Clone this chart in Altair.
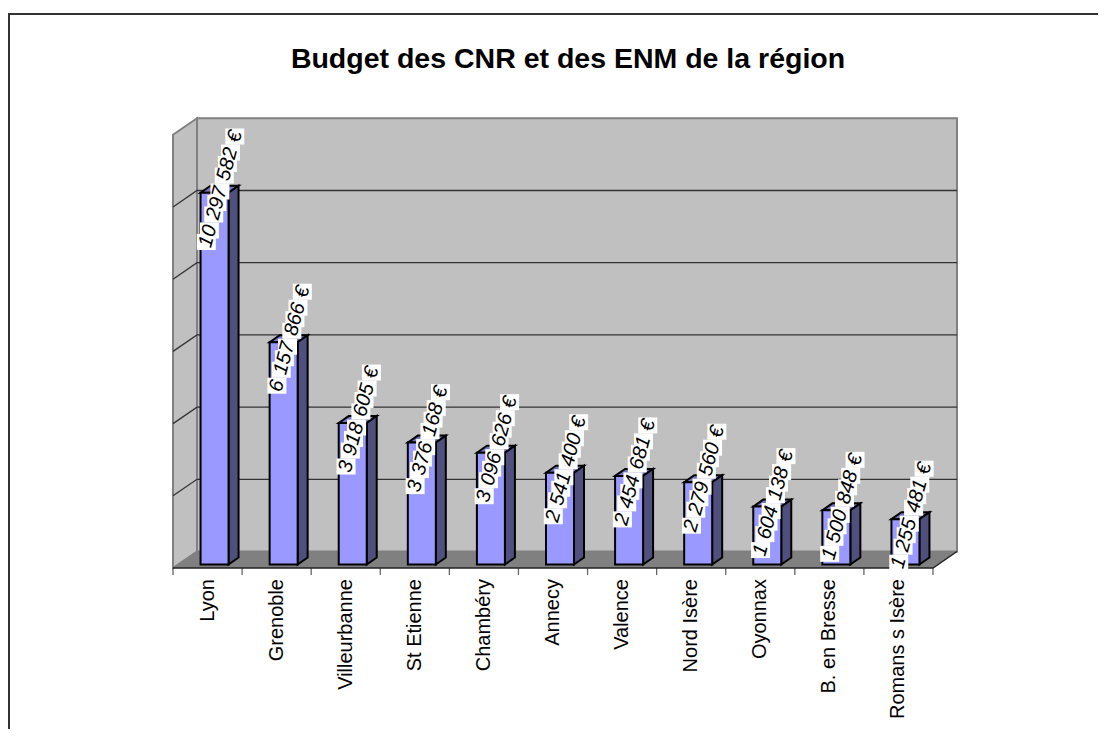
import altair as alt
import pandas as pd

TITLE = "Budget des CNR et des ENM de la région"
cities = ["Lyon", "Grenoble", "Villeurbanne", "St Etienne", "Chambéry", "Annecy",
          "Valence", "Nord Isère", "Oyonnax", "B. en Bresse", "Romans s Isère"]
budgets = [10297582, 6157866, 3918605, 3376168, 3096626, 2541400,
           2454681, 2279560, 1604138, 1500848, 1255481]
grid_values = [2, 4, 6, 8, 10, 12]

# layout of the pseudo-3D box, in pixels of the plot area
W, H = 1090, 721
CAT = 69.09          # px per category
PXM = 36.1           # px per million
X0, Y0 = 165.0, 560.0  # origin of the front axis
DX, DY = 24.0, 16.5    # depth of the box
BDX, BDY = 10.0, 7.0   # depth of a bar
BAR_W = 28.0
BAR_SHIFT, BAR_LIFT = 7.0, 3.5


def ux(px):
    return px / CAT


def uy(px):
    return px / PXM


xs = alt.Scale(domain=[-X0 / CAT, (W - X0) / CAT], range=[0, W], nice=False, zero=False)
ys = alt.Scale(domain=[-(H - Y0) / PXM, Y0 / PXM], range=[H, 0], nice=False, zero=False)
X = alt.X("x:Q", scale=xs, axis=None)
Y = alt.Y("y:Q", scale=ys, axis=None)
n = len(cities)
top = 12.0


def polys(rows):
    return pd.DataFrame(rows, columns=["id", "x", "y", "y2"])


def area(df, fill, stroke=None, sw=0):
    kw = {"fill": fill, "strokeWidth": sw}
    if stroke:
        kw["stroke"] = stroke
    return alt.Chart(df).mark_area(**kw).encode(x=X, y=Y, y2="y2:Q", detail="id:N")


def lines(df, color, sw):
    return alt.Chart(df).mark_line(color=color, strokeWidth=sw).encode(x=X, y=Y, detail="id:N", order="o:Q")


ddx, ddy = ux(DX), uy(DY)
back = pd.DataFrame([{"x": ddx, "x2": n + ddx, "y": ddy, "y2": ddy + top}])
back_layer = alt.Chart(back).mark_rect(fill="#C0C0C0", stroke="#808080", strokeWidth=2).encode(
    x=X, x2="x2:Q", y=Y, y2="y2:Q")
left_wall = area(polys([(0, 0, 0, top), (0, ddx, ddy, ddy + top)]), "#C0C0C0", "#808080", 2)
floor = area(polys([(0, 0, 0, 0), (0, ddx, ddy, 0), (0, n, ddy, 0), (0, n + ddx, ddy, ddy)]), "#808080")

grid_rows = []
for i, g in enumerate(grid_values[:-1]):
    grid_rows += [(i, 0, 0, g), (i, 1, ddx, g + ddy), (i, 2, n + ddx, g + ddy)]
grid = lines(pd.DataFrame(grid_rows, columns=["id", "o", "x", "y"]), "#333333", 1.3)

axis_df = pd.DataFrame([(0, 0, 0, 0), (0, 1, n, 0), (0, 2, n + ddx, ddy)], columns=["id", "o", "x", "y"])
axis_line = lines(axis_df, "#222222", 1.5)
tick_rows = []
for i in range(n + 1):
    tick_rows += [(i, 0, i, 0), (i, 1, i, -uy(7))]
ticks = lines(pd.DataFrame(tick_rows, columns=["id", "o", "x", "y"]), "#666666", 1.3)

frame = lines(pd.DataFrame([(0, 0, -X0 / CAT + ux(1), -(H - Y0) / PXM),
                            (0, 1, -X0 / CAT + ux(1), (Y0 - 6) / PXM),
                            (0, 2, (W - X0) / CAT, (Y0 - 6) / PXM)],
                           columns=["id", "o", "x", "y"]), "#333333", 2)

# bars
fronts, sides, tops = [], [], []
box_rows, text_rows = [], []
for i, (c, v) in enumerate(zip(cities, budgets)):
    m = v / 1e6
    xc = i + 0.5 + ux(BAR_SHIFT)
    l, r = xc - ux(BAR_W / 2), xc + ux(BAR_W / 2)
    b = uy(BAR_LIFT)
    t = b + m
    bx, by = ux(BDX), uy(BDY)
    fronts.append({"x": l, "x2": r, "y": b, "y2": t})
    sides += [(i, r, b, t), (i, r + bx, b + by, t + by)]
    tops += [(i, l, t, t), (i, l + bx, t + by, t), (i, r, t + by, t), (i, r + bx, t + by, t + by)]

    # label: groups of digits laid out along a slanted line centred on the bar's top face
    label = f"{v:,}".replace(",", " ") + " €"
    tokens = label.split(" ")
    STEP, GAP, SLOPE = 11.5, 16.0, 0.27
    pos = 0.0
    chars = []
    for ti, tok in enumerate(tokens):
        if ti:
            pos += GAP
        for ci, ch in enumerate(tok):
            if ci:
                pos += STEP
            chars.append((ti, ch, pos))
    mid = pos / 2
    cx = X0 + (xc * CAT) + BDX / 2 + 1
    cy = (t + by / 2) * PXM
    for ti, tok in enumerate(tokens):
        ps = [p for tt, ch, p in chars if tt == ti]
        for p in ps:
            dyp = p - mid
            px = cx + dyp * SLOPE
            hw, hh = 9.5, 8.0
            box_rows.append({"x": (px - hw - X0) / CAT, "x2": (px + hw - X0) / CAT,
                             "y": (cy + dyp - hh) / PXM, "y2": (cy + dyp + hh) / PXM})
        pm = sum(ps) / len(ps) - mid
        text_rows.append({"x": (cx + pm * SLOPE - X0) / CAT, "y": (cy + pm) / PXM, "t": tok})

front_layer = alt.Chart(pd.DataFrame(fronts)).mark_rect(fill="#9999FF", stroke="black", strokeWidth=2).encode(
    x=X, x2="x2:Q", y=Y, y2="y2:Q")
side_layer = area(polys(sides), "#50507F", "black", 2)
top_layer = area(polys(tops), "#7575BF", "black", 2)
boxes = alt.Chart(pd.DataFrame(box_rows)).mark_rect(fill="white").encode(x=X, x2="x2:Q", y=Y, y2="y2:Q")
val_text = alt.Chart(pd.DataFrame(text_rows)).mark_text(
    font="Liberation Sans", fontStyle="italic", fontSize=20, angle=285, align="center", baseline="middle", color="black"
).encode(x=X, y=Y, text="t:N")

cat_df = pd.DataFrame({"x": [i + 0.5 for i in range(n)], "y": [-uy(11)] * n, "t": cities})
cat_text = alt.Chart(cat_df).mark_text(
    font="Liberation Sans", fontSize=20, angle=270, align="right", baseline="middle", color="black"
).encode(x=X, y=Y, text="t:N")

title_df = pd.DataFrame({"x": [(560 - X0) / CAT], "y": [(Y0 - 51) / PXM], "t": [TITLE]})
title_text = alt.Chart(title_df).mark_text(
    font="Liberation Sans", fontWeight="bold", fontSize=28.5, align="center", baseline="middle", color="black"
).encode(x=X, y=Y, text="t:N")

chart = alt.layer(
    frame, back_layer, left_wall, floor, grid, ticks, axis_line,
    top_layer, side_layer, front_layer, boxes, val_text, cat_text, title_text
).properties(width=W, height=H, padding=0, autosize=alt.AutoSizeParams(type="none"), background="white"
).configure_view(stroke=None)

chart.save("out.html", embed_options={"renderer": "svg", "actions": False})
